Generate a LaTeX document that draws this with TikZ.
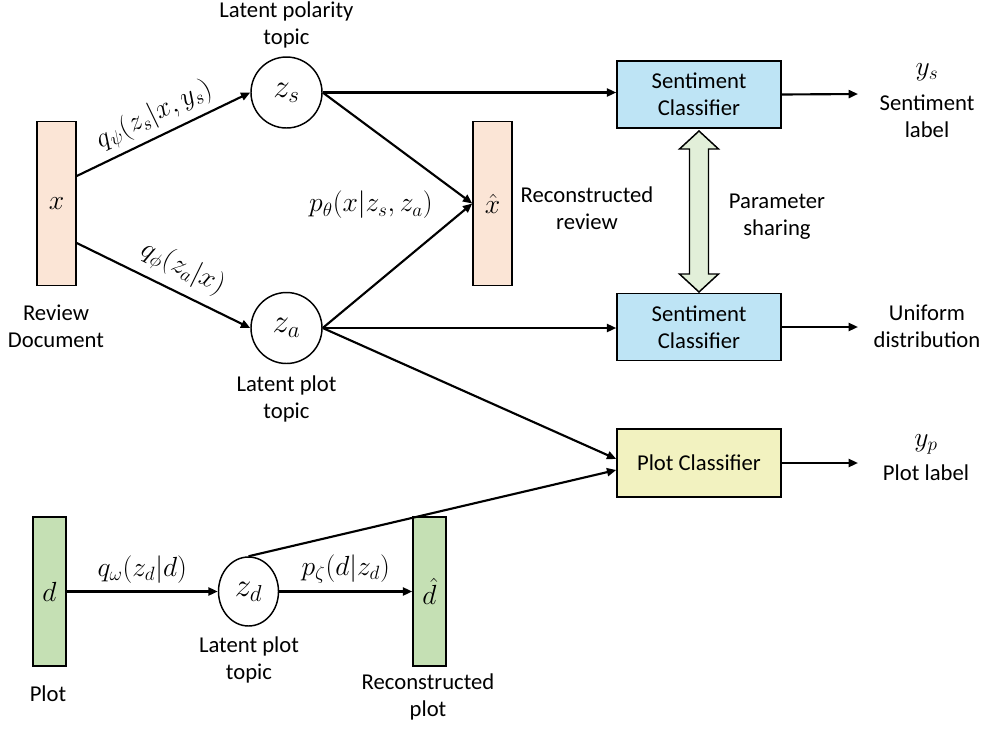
\documentclass[tikz,border=0pt]{standalone}
\usepackage{fontspec}
\setmainfont{Carlito}
\usetikzlibrary{arrows.meta,shapes.geometric,calc}
\definecolor{pinkfill}{RGB}{251,229,214}
\definecolor{bluefill}{RGB}{190,228,245}
\definecolor{yellowfill}{RGB}{242,242,192}
\definecolor{greenfill}{RGB}{197,224,180}
\definecolor{sharefill}{RGB}{226,239,217}
\begin{document}
\begin{tikzpicture}[x=0.75pt,y=-0.75pt,
  every node/.style={font=\fontsize{17}{20.25}\selectfont},
  mathlbl/.style={font=\fontsize{20}{24}\selectfont},
  conn/.style={line width=1.6pt,-{Triangle[length=7pt,width=6pt]}},
  vecbox/.style={draw=black,line width=1.1pt,inner sep=0pt,font=\fontsize{20}{24}\selectfont},
  latent/.style={draw=black,line width=1.1pt,circle,minimum size=53.25pt,inner sep=0pt,font=\fontsize{23}{26}\selectfont},
  classbox/.style={draw=black,line width=1.1pt,minimum width=123pt,inner sep=0pt,align=center},
  lbl/.style={align=center,inner sep=0pt}]
\useasboundingbox (0,0) rectangle (990,729);

% vectors
\node[vecbox,fill=pinkfill,minimum width=29.25pt,minimum height=123pt] (x) at (56.5,203.5) {$x$};
\node[vecbox,fill=pinkfill,minimum width=29.25pt,minimum height=123pt] (xh) at (492.5,203.5) {$\hat{x}$};
\node[vecbox,fill=greenfill,minimum width=24.75pt,minimum height=111.75pt] (d) at (49.5,591.5) {$d$};
\node[vecbox,fill=greenfill,minimum width=24.75pt,minimum height=111.75pt] (dh) at (429.5,591.5) {$\hat{d}$};

% latent variables
\node[latent] (zs) at (286.5,92.5) {$z_s$};
\node[latent] (za) at (286.5,328) {$z_a$};
\node[draw=black,line width=1.1pt,ellipse,minimum width=45pt,minimum height=51.75pt,inner sep=0pt,font=\fontsize{23}{26}\selectfont] (zd) at (248.5,591.5) {$z_d$};

% classifiers
\node[classbox,fill=bluefill,minimum height=50.25pt] (sc1) at (699,94.5) {Sentiment\\Classifier};
\node[classbox,fill=bluefill,minimum height=50.25pt] (sc2) at (699,327) {Sentiment\\Classifier};
\node[classbox,fill=yellowfill,minimum height=51pt] (pc) at (699,463) {Plot Classifier};

% output ends
\coordinate (ys) at (858,94);
\coordinate (uni) at (858,327);
\coordinate (yp) at (858,463);

% parameter sharing double arrow
\filldraw[fill=sharefill,draw=black,line width=1.1pt]
  (699,131) -- (718.5,149) -- (708.5,149) -- (708.5,274) -- (718.5,274) -- (699,292)
  -- (679.5,274) -- (689.5,274) -- (689.5,149) -- (679.5,149) -- cycle;

% connectors
\draw[conn] ($(x.east)+(0,-27.5)$) -- node[mathlbl,sloped,above=1pt,pos=0.5] {$q_\psi(z_s|x,y_s)$} (zs.west);
\draw[conn] ($(x.east)+(0,39.5)$) -- node[mathlbl,sloped,above=3pt,pos=0.55] {$q_\phi(z_a|x)$} (za.west);
\draw[conn] (zs.east) -- (xh.west);
\draw[conn] (za.east) -- (xh.west);
\draw[conn] (zs.east) -- (zs -| sc1.west);
\draw[conn] (za.east) -- (za -| sc2.west);
\draw[conn] (za.east) -- ($(pc.west)+(0,-4)$);
\draw[conn] (zd.north) -- ($(pc.west)+(0,7)$);
\draw[conn] (d.east) -- node[mathlbl,above=2pt] {$q_\omega(z_d|d)$} (zd.west);
\draw[conn] (zd.east) -- node[mathlbl,above=2pt] {$p_\zeta(d|z_d)$} (dh.west);
\draw[conn] (sc1.east) -- (ys);
\draw[conn] (sc2.east) -- (uni);
\draw[conn] (pc.east) -- (yp);

% labels
\node[lbl,mathlbl] (ptheta) at (371,205) {$p_\theta(x|z_s,z_a)$};
\node[lbl] (lpt) at (286.5,24.5) {Latent polarity\\topic};
\node[lbl] (rd) at (56,326.5) {Review\\Document};
\node[lbl] (lplt) at (286.5,399) {Latent plot\\topic};
\node[lbl] (rr) at (587,208.5) {Reconstructed\\review};
\node[lbl] (ps) at (777,216.5) {Parameter\\sharing};
\node[lbl,mathlbl] (yslbl) at (927,72) {$y_s$};
\node[lbl] (sl) at (927,116.5) {Sentiment\\label};
\node[lbl] (ud) at (927,326.5) {Uniform\\distribution};
\node[lbl,mathlbl] (yplbl) at (926,444) {$y_p$};
\node[lbl] (pl) at (926,473) {Plot label};
\node[lbl] (plot) at (48,694) {Plot};
\node[lbl] (lplt2) at (249,659.5) {Latent plot\\topic};
\node[lbl] (rp) at (428,696.5) {Reconstructed\\plot};
\end{tikzpicture}
\end{document}
